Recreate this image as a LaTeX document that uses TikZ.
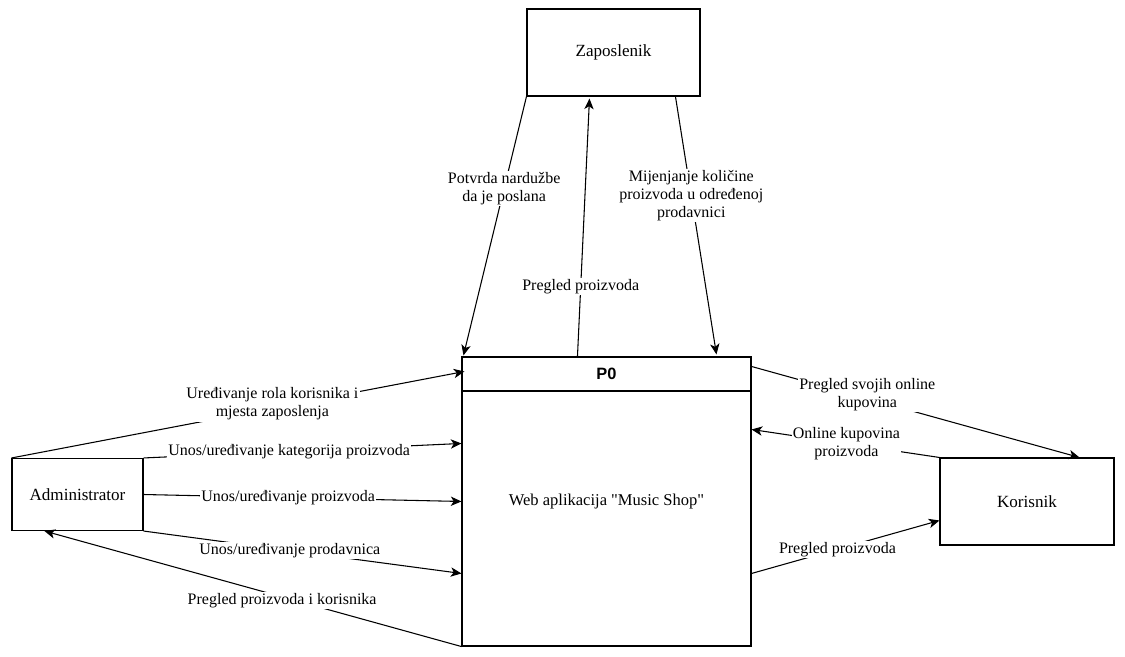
\documentclass[tikz,border=0pt]{standalone}
\usepackage{fontspec}
\setmainfont{Liberation Serif}[Ligatures=TeXOff]
\setsansfont{Liberation Sans}
\usetikzlibrary{arrows.meta,positioning,calc}
\tikzset{
  entity/.style={draw, thick, fill=white, align=center, font=\fontsize{12.8}{14}\selectfont},
  proc/.style={draw, thick, fill=white, minimum width=216.75pt, minimum height=216.75pt,
    align=center, font=\fontsize{12.4}{14}\selectfont},
  prochead/.style={draw, thick, minimum width=216.75pt, minimum height=25.5pt,
    font=\sffamily\bfseries\fontsize{12.3}{14}\selectfont},
  flow/.style={-{Stealth[length=8pt, width=7pt, inset=2.2pt]}, thick},
  tag/.style={fill=white, inner sep=1pt, align=center, font=\fontsize{12}{13.5}\selectfont}
}
\begin{document}
\begin{tikzpicture}[x=0.75pt, y=-0.75pt]
  \useasboundingbox[fill=white] (0,0) rectangle (1125,657);
  \node[entity, minimum width=129.75pt, minimum height=65.25pt] (zap) at (613.5,52.5) {Zaposlenik};
  \node[proc] (p0) at (606.5,501.5) {Web aplikacija "Music Shop"};
  \node[prochead, anchor=north] (p0h) at (p0.north) {P0};
  \node[entity, minimum width=98.25pt, minimum height=54pt] (admin) at (77.5,494.5) {Administrator};
  \node[entity, minimum width=130.5pt, minimum height=65.25pt] (kor) at (1027,501.5) {Korisnik};
  % Zaposlenik
  \draw[flow] (zap.south west) -- node[tag, pos=0.354] {Potvrda nardužbe\\da je poslana} ($(p0.north west)+(2,-1)$);
  \draw[flow] ($(p0.north west)+(116,0)$) -- node[tag, pos=0.27] {Pregled proizvoda} ($(zap.south west)+(63,2)$);
  \draw[flow] ($(zap.south west)+(149,0)$) -- node[tag, pos=0.385] {Mijenjanje količine\\proizvoda u određenoj\\prodavnici} ($(p0.north west)+(255,-2)$);
  % Administrator
  \draw[flow] (admin.north west) -- node[tag, pos=0.576, yshift=3pt] {Uređivanje rola korisnika i\\mjesta zaposlenja} ($(p0.north west)+(3,15)$);
  \draw[flow] (admin.north east) -- node[tag, pos=0.458] {Unos/uređivanje kategorija proizvoda} ($(p0.north west)+(0,87)$);
  \draw[flow] (admin.east) -- node[tag, pos=0.455] {Unos/uređivanje proizvoda} ($(p0.north west)+(0,145)$);
  \draw[flow] (admin.south east) -- node[tag, pos=0.46] {Unos/uređivanje prodavnica} ($(p0.north west)+(0,217)$);
  \draw[flow] (p0.south west) -- node[tag, pos=0.43, yshift=-3pt] {Pregled proizvoda i korisnika} ($(admin.south west)+(33,0)$);
  % Korisnik
  \draw[flow] ($(p0.north east)+(0,10)$) -- node[tag, pos=0.353, yshift=3pt] {Pregled svojih online\\kupovina} ($(kor.north west)+(140,0)$);
  \draw[flow] (kor.north west) -- node[tag, pos=0.495] {Online kupovina\\proizvoda} ($(p0.north east)+(0,73)$);
  \draw[flow] ($(p0.north east)+(0,217)$) -- node[tag, pos=0.457] {Pregled proizvoda} ($(kor.north west)+(0,63)$);
\end{tikzpicture}
\end{document}
